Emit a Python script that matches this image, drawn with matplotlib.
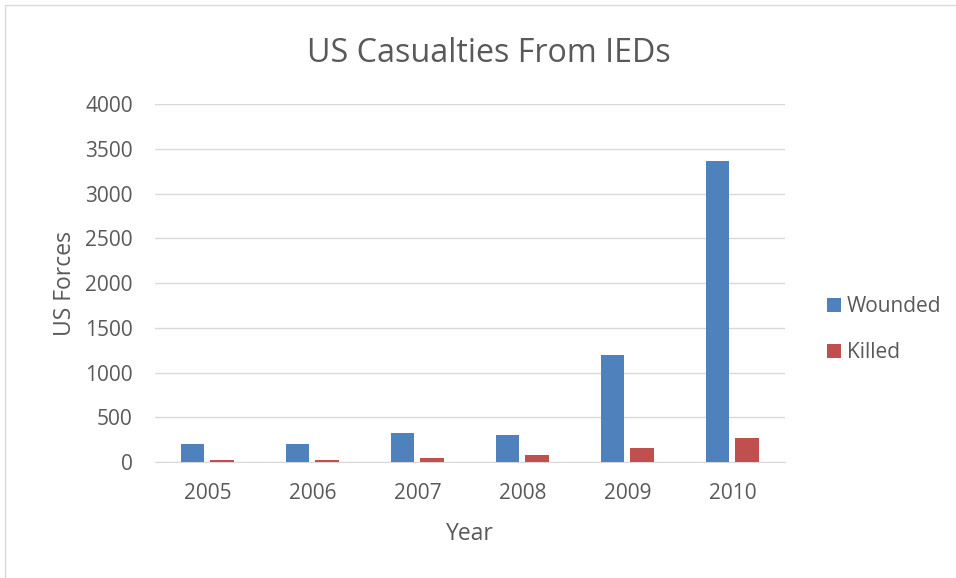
import matplotlib
matplotlib.use("Agg")
import matplotlib.pyplot as plt
import numpy as np
from matplotlib.patches import Rectangle

years = ["2005", "2006", "2007", "2008", "2009", "2010"]
wounded = [205, 200, 325, 302, 1200, 3361]
killed = [19, 22, 48, 75, 160, 269]

plt.rcParams['font.family'] = ['Open Sans', 'DejaVu Sans']
text_color = "#595959"

fig = plt.figure(figsize=(9.56, 5.78), dpi=100)
ax = fig.add_axes([0.162, 0.2007, 0.659, 0.6193])

x = np.arange(len(years))
bw = 0.225
off = 0.14
ax.bar(x - off, wounded, bw, color="#4f81bd", label="Wounded", zorder=3)
ax.bar(x + off, killed, bw, color="#c0504d", label="Killed", zorder=3)

ax.set_xlim(-0.5, len(years) - 0.5)
ax.set_ylim(0, 4000)
ax.set_yticks(range(0, 4001, 500))
ax.set_xticks(x)
ax.set_xticklabels(years)
ax.yaxis.grid(True, color="#d9d9d9", linewidth=1, zorder=0)
ax.set_axisbelow(True)
for s in ["top", "right", "left"]:
    ax.spines[s].set_visible(False)
ax.spines["bottom"].set_color("#d9d9d9")
ax.tick_params(axis="both", length=0, labelsize=15, labelcolor=text_color)
ax.tick_params(axis="x", pad=15)
ax.tick_params(axis="y", pad=16)

ax.set_xlabel("Year", fontsize=16.5, color=text_color, labelpad=13)
ax.set_ylabel("US Forces", fontsize=16.5, color=text_color, labelpad=6)
fig.text(489/956, 1 - 53/578, "US Casualties From IEDs", ha="center", va="center",
         fontsize=23.2, color=text_color)

leg = fig.legend(loc="center left", bbox_to_anchor=(826.7/956, 1 - 329.5/578),
                 bbox_transform=fig.transFigure, frameon=False,
                 fontsize=15, handlelength=0.67, handleheight=0.67,
                 labelspacing=1.2, handletextpad=0.3, borderpad=0,
                 borderaxespad=0, labelcolor=text_color)

fig.patches.append(Rectangle((5/956, -0.1), 1.2, 1 - 5/578 + 0.1,
                             transform=fig.transFigure, fill=False,
                             edgecolor="#d9d9d9", linewidth=1))

fig.savefig("out.png", dpi=100)
